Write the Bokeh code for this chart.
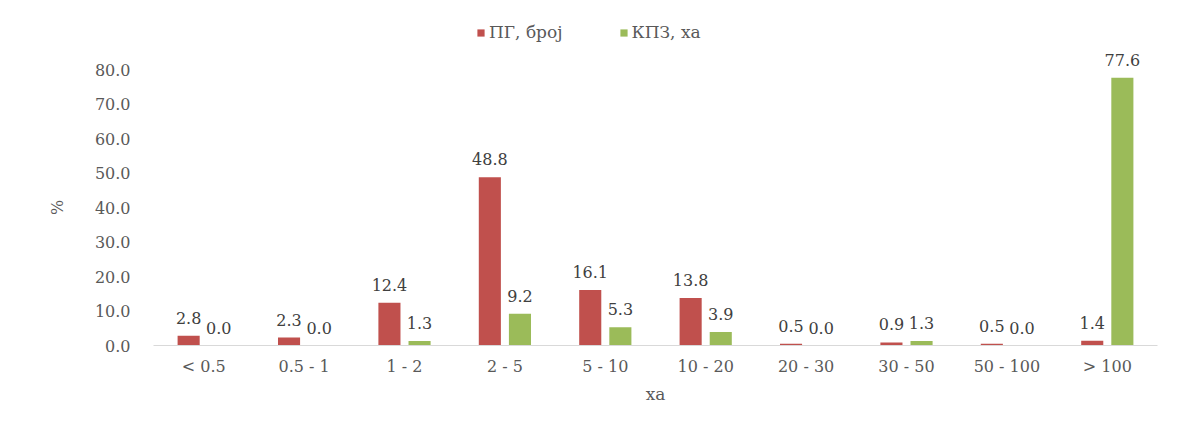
from bokeh.plotting import figure
from bokeh.models import (ColumnDataSource, FactorRange, Range1d, Legend, LegendItem,
                          FixedTicker, CustomJSTickFormatter)
from bokeh.transform import dodge
from bokeh.core.properties import value
from bokeh.embed import file_html
from bokeh.resources import INLINE

categories = ["< 0.5", "0.5 - 1", "1 - 2", "2 - 5", "5 - 10", "10 - 20", "20 - 30", "30 - 50", "50 - 100", "> 100"]
pg_values = [2.8, 2.3, 12.4, 48.8, 16.1, 13.8, 0.5, 0.9, 0.5, 1.4]
kpz_values = [0.0, 0.0, 1.3, 9.2, 5.3, 3.9, 0.0, 1.3, 0.0, 77.6]
series_names = ["ПГ, број", "КПЗ, ха"]
y_ticks = [0, 10, 20, 30, 40, 50, 60, 70, 80]

RED = "#C0504D"
GREEN = "#9BBB59"
FONT = "DejaVu Serif"
GRAY = "#595959"

src = ColumnDataSource(dict(
    cat=categories,
    pg=pg_values,
    kpz=kpz_values,
    pg_lab=[f"{v:.1f}" for v in pg_values],
    kpz_lab=[f"{v:.1f}" for v in kpz_values],
))

p = figure(
    x_range=FactorRange(factors=categories, range_padding=0),
    y_range=Range1d(0, 94.8),
    width=1170, height=410,
    frame_width=1004, frame_height=327,
    min_border_left=153, min_border_right=13, min_border_top=18, min_border_bottom=65,
    output_backend="svg", toolbar_location=None,
    background_fill_color="white", border_fill_color="white",
)
p.outline_line_color = None
p.xgrid.grid_line_color = None
p.ygrid.grid_line_color = None

r1 = p.vbar(x=dodge("cat", -0.15, range=p.x_range), top="pg", width=0.22, source=src,
            fill_color=RED, line_color=None)
r2 = p.vbar(x=dodge("cat", 0.15, range=p.x_range), top="kpz", width=0.22, source=src,
            fill_color=GREEN, line_color=None)

for field, lab, off in (("pg", "pg_lab", -0.15), ("kpz", "kpz_lab", 0.15)):
    p.text(x=dodge("cat", off, range=p.x_range), y=field, text=lab, source=src,
           text_font=value(FONT), text_font_size="16px", text_color="#404040",
           text_align="center", text_baseline="bottom", y_offset=-12)

# axes
p.yaxis.ticker = FixedTicker(ticks=y_ticks)
p.yaxis.formatter = CustomJSTickFormatter(code="return tick.toFixed(1);")
p.yaxis.axis_line_color = None
p.yaxis.major_tick_line_color = None
p.yaxis.minor_tick_line_color = None
p.yaxis.major_label_standoff = 17
p.yaxis.major_label_text_font = FONT
p.yaxis.major_label_text_font_size = "16px"
p.yaxis.major_label_text_color = GRAY
p.yaxis.axis_label = "%" + "\u00a0" * 10
p.yaxis.axis_label_text_font = FONT
p.yaxis.axis_label_text_font_size = "16px"
p.yaxis.axis_label_text_font_style = "normal"
p.yaxis.axis_label_text_color = GRAY
p.yaxis.axis_label_standoff = 25

p.xaxis.axis_line_color = "#D9D9D9"
p.xaxis.major_tick_line_color = None
p.xaxis.minor_tick_line_color = None
p.xaxis.major_label_standoff = 5
p.xaxis.major_label_text_font = FONT
p.xaxis.major_label_text_font_size = "16px"
p.xaxis.major_label_text_color = GRAY
p.xaxis.axis_label = "ха"
p.xaxis.axis_label_text_font = FONT
p.xaxis.axis_label_text_font_size = "17px"
p.xaxis.axis_label_text_font_style = "normal"
p.xaxis.axis_label_text_color = GRAY
p.xaxis.axis_label_standoff = 5

legend = Legend(items=[LegendItem(label=series_names[0], renderers=[r1]),
                       LegendItem(label=series_names[1], renderers=[r2])],
                orientation="horizontal", location=(323, 303),
                background_fill_alpha=0, border_line_color=None,
                glyph_width=9, glyph_height=9, spacing=56, padding=2, margin=0,
                label_text_font=FONT, label_text_font_size="17px", label_text_color=GRAY,
                label_standoff=4)
p.add_layout(legend, "center")

open("out.html", "w").write(file_html(p, INLINE))
